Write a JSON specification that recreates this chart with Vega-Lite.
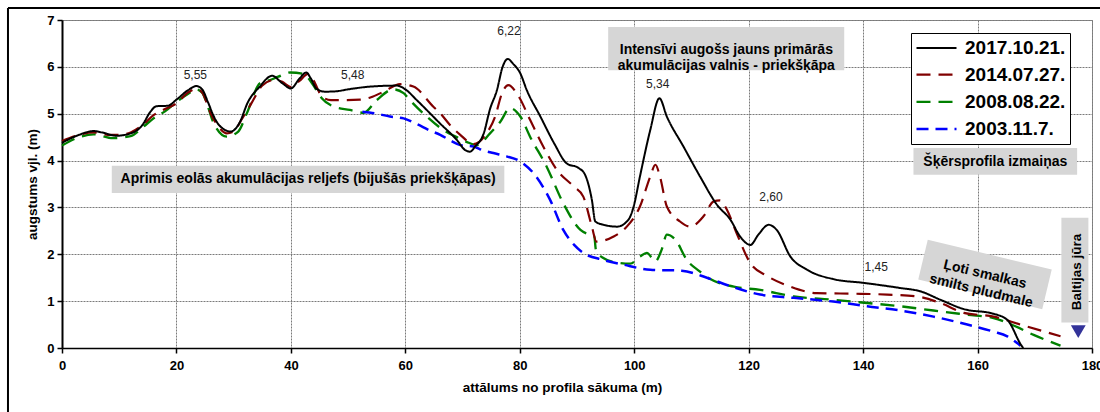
{
  "$schema": "https://vega.github.io/schema/vega-lite/v6.json",
  "width": 1030,
  "height": 328,
  "autosize": {"type": "none"},
  "padding": {"left": 62, "top": 20, "right": 8, "bottom": 64},
  "background": "white",
  "config": {
    "font": "Liberation Sans",
    "view": {"stroke": "#8c8c8c", "strokeWidth": 1},
    "axis": {
      "labelFont": "Liberation Sans", "labelFontWeight": "bold", "labelFontSize": 13, "labelColor": "#000",
      "titleFont": "Liberation Sans", "titleFontWeight": "bold", "titleFontSize": 13.5, "titleColor": "#000",
      "domainColor": "#000", "tickColor": "#000", "tickSize": 5, "tickWidth": 1.5,
      "gridColor": "#7a7a7a", "gridDash": [2, 1], "gridWidth": 1, "labelFlush": false, "labelOverlap": false
    },
    "legend": {
      "labelFont": "Liberation Sans", "labelFontSize": 19, "labelFontWeight": "bold", "labelColor": "#000",
      "symbolType": "M-1,0L3,0", "symbolSize": 400, "symbolStrokeWidth": 2.5, "symbolFillColor": "transparent",
      "strokeColor": "#000", "fillColor": "#fff", "padding": 4, "rowPadding": 5.2, "labelOffset": 27
    }
  },
  "datasets": {
    "profiles": [
      {"date": "2008.08.22.", "x": 0, "y": 4.32},
      {"date": "2008.08.22.", "x": 3, "y": 4.5},
      {"date": "2008.08.22.", "x": 5.5, "y": 4.56},
      {"date": "2008.08.22.", "x": 8.9, "y": 4.48},
      {"date": "2008.08.22.", "x": 12, "y": 4.52},
      {"date": "2008.08.22.", "x": 14.2, "y": 4.72},
      {"date": "2008.08.22.", "x": 16, "y": 4.9},
      {"date": "2008.08.22.", "x": 18, "y": 5.05},
      {"date": "2008.08.22.", "x": 20, "y": 5.25},
      {"date": "2008.08.22.", "x": 22, "y": 5.42},
      {"date": "2008.08.22.", "x": 23.5, "y": 5.52},
      {"date": "2008.08.22.", "x": 24.5, "y": 5.45},
      {"date": "2008.08.22.", "x": 25.5, "y": 5.15},
      {"date": "2008.08.22.", "x": 26.5, "y": 4.8},
      {"date": "2008.08.22.", "x": 28.8, "y": 4.51},
      {"date": "2008.08.22.", "x": 30.8, "y": 4.62},
      {"date": "2008.08.22.", "x": 32.3, "y": 5.01},
      {"date": "2008.08.22.", "x": 34.6, "y": 5.65},
      {"date": "2008.08.22.", "x": 36.4, "y": 5.72},
      {"date": "2008.08.22.", "x": 37.8, "y": 5.79},
      {"date": "2008.08.22.", "x": 39.9, "y": 5.88},
      {"date": "2008.08.22.", "x": 42.2, "y": 5.85},
      {"date": "2008.08.22.", "x": 43.9, "y": 5.61},
      {"date": "2008.08.22.", "x": 45.4, "y": 5.33},
      {"date": "2008.08.22.", "x": 47.5, "y": 5.15},
      {"date": "2008.08.22.", "x": 50.3, "y": 5.08},
      {"date": "2008.08.22.", "x": 52.7, "y": 5.02},
      {"date": "2008.08.22.", "x": 55, "y": 5.29},
      {"date": "2008.08.22.", "x": 57.9, "y": 5.52},
      {"date": "2008.08.22.", "x": 59.7, "y": 5.44},
      {"date": "2008.08.22.", "x": 60.5, "y": 5.33},
      {"date": "2008.08.22.", "x": 63.2, "y": 5.0},
      {"date": "2008.08.22.", "x": 66.7, "y": 4.65},
      {"date": "2008.08.22.", "x": 69, "y": 4.5},
      {"date": "2008.08.22.", "x": 70.7, "y": 4.4},
      {"date": "2008.08.22.", "x": 72.5, "y": 4.33},
      {"date": "2008.08.22.", "x": 74.8, "y": 4.58},
      {"date": "2008.08.22.", "x": 76.6, "y": 4.83},
      {"date": "2008.08.22.", "x": 78.3, "y": 5.12},
      {"date": "2008.08.22.", "x": 80.1, "y": 4.94},
      {"date": "2008.08.22.", "x": 81.8, "y": 4.51},
      {"date": "2008.08.22.", "x": 84.7, "y": 3.87},
      {"date": "2008.08.22.", "x": 87.6, "y": 3.09},
      {"date": "2008.08.22.", "x": 90.6, "y": 2.52},
      {"date": "2008.08.22.", "x": 92.3, "y": 2.42},
      {"date": "2008.08.22.", "x": 93.0, "y": 2.4},
      {"date": "2008.08.22.", "x": 93.3, "y": 2.1},
      {"date": "2008.08.22.", "x": 94.6, "y": 1.92},
      {"date": "2008.08.22.", "x": 97, "y": 1.82},
      {"date": "2008.08.22.", "x": 99.3, "y": 1.8},
      {"date": "2008.08.22.", "x": 101, "y": 1.95},
      {"date": "2008.08.22.", "x": 102.2, "y": 2.03},
      {"date": "2008.08.22.", "x": 103.7, "y": 1.85},
      {"date": "2008.08.22.", "x": 104.8, "y": 2.1},
      {"date": "2008.08.22.", "x": 105.7, "y": 2.42},
      {"date": "2008.08.22.", "x": 107.2, "y": 2.31},
      {"date": "2008.08.22.", "x": 109.2, "y": 1.88},
      {"date": "2008.08.22.", "x": 111.5, "y": 1.63},
      {"date": "2008.08.22.", "x": 113.3, "y": 1.47},
      {"date": "2008.08.22.", "x": 117.4, "y": 1.31},
      {"date": "2008.08.22.", "x": 122, "y": 1.24},
      {"date": "2008.08.22.", "x": 127.9, "y": 1.1},
      {"date": "2008.08.22.", "x": 134.8, "y": 1.03},
      {"date": "2008.08.22.", "x": 140.7, "y": 0.96},
      {"date": "2008.08.22.", "x": 146.5, "y": 0.89},
      {"date": "2008.08.22.", "x": 152.3, "y": 0.8},
      {"date": "2008.08.22.", "x": 158.2, "y": 0.71},
      {"date": "2008.08.22.", "x": 162.8, "y": 0.64},
      {"date": "2008.08.22.", "x": 166.3, "y": 0.48},
      {"date": "2008.08.22.", "x": 169.8, "y": 0.28},
      {"date": "2008.08.22.", "x": 174.5, "y": 0.05},

      {"date": "2003.11.7.", "x": 52.5, "y": 5.04},
      {"date": "2003.11.7.", "x": 55, "y": 5.0},
      {"date": "2003.11.7.", "x": 57.3, "y": 4.94},
      {"date": "2003.11.7.", "x": 59.7, "y": 4.9},
      {"date": "2003.11.7.", "x": 62, "y": 4.78},
      {"date": "2003.11.7.", "x": 64.3, "y": 4.64},
      {"date": "2003.11.7.", "x": 66.1, "y": 4.55},
      {"date": "2003.11.7.", "x": 68, "y": 4.42},
      {"date": "2003.11.7.", "x": 69.6, "y": 4.33},
      {"date": "2003.11.7.", "x": 71.9, "y": 4.3},
      {"date": "2003.11.7.", "x": 73.5, "y": 4.22},
      {"date": "2003.11.7.", "x": 75.4, "y": 4.16},
      {"date": "2003.11.7.", "x": 77.7, "y": 4.09},
      {"date": "2003.11.7.", "x": 80.1, "y": 3.98},
      {"date": "2003.11.7.", "x": 82.4, "y": 3.73},
      {"date": "2003.11.7.", "x": 85.3, "y": 3.16},
      {"date": "2003.11.7.", "x": 87.6, "y": 2.52},
      {"date": "2003.11.7.", "x": 89.5, "y": 2.2},
      {"date": "2003.11.7.", "x": 91.1, "y": 2.03},
      {"date": "2003.11.7.", "x": 94.6, "y": 1.88},
      {"date": "2003.11.7.", "x": 98.1, "y": 1.78},
      {"date": "2003.11.7.", "x": 102.8, "y": 1.67},
      {"date": "2003.11.7.", "x": 108.3, "y": 1.65},
      {"date": "2003.11.7.", "x": 112.7, "y": 1.5},
      {"date": "2003.11.7.", "x": 116.8, "y": 1.32},
      {"date": "2003.11.7.", "x": 122, "y": 1.14},
      {"date": "2003.11.7.", "x": 127.9, "y": 1.07},
      {"date": "2003.11.7.", "x": 134.8, "y": 0.99},
      {"date": "2003.11.7.", "x": 140.7, "y": 0.89},
      {"date": "2003.11.7.", "x": 146.5, "y": 0.8},
      {"date": "2003.11.7.", "x": 152.3, "y": 0.67},
      {"date": "2003.11.7.", "x": 158.2, "y": 0.5},
      {"date": "2003.11.7.", "x": 162.8, "y": 0.35},
      {"date": "2003.11.7.", "x": 165.2, "y": 0.25},
      {"date": "2003.11.7.", "x": 167.5, "y": 0.05},

      {"date": "2014.07.27.", "x": 0, "y": 4.42},
      {"date": "2014.07.27.", "x": 3, "y": 4.55},
      {"date": "2014.07.27.", "x": 5.5, "y": 4.6},
      {"date": "2014.07.27.", "x": 8, "y": 4.55},
      {"date": "2014.07.27.", "x": 10, "y": 4.55},
      {"date": "2014.07.27.", "x": 12, "y": 4.6},
      {"date": "2014.07.27.", "x": 14, "y": 4.75},
      {"date": "2014.07.27.", "x": 16, "y": 4.97},
      {"date": "2014.07.27.", "x": 18, "y": 5.1},
      {"date": "2014.07.27.", "x": 20, "y": 5.22},
      {"date": "2014.07.27.", "x": 22, "y": 5.45},
      {"date": "2014.07.27.", "x": 23.5, "y": 5.53},
      {"date": "2014.07.27.", "x": 24.5, "y": 5.45},
      {"date": "2014.07.27.", "x": 26, "y": 5.0},
      {"date": "2014.07.27.", "x": 27.5, "y": 4.7},
      {"date": "2014.07.27.", "x": 28.8, "y": 4.58},
      {"date": "2014.07.27.", "x": 30, "y": 4.62},
      {"date": "2014.07.27.", "x": 31.5, "y": 4.9},
      {"date": "2014.07.27.", "x": 33, "y": 5.2},
      {"date": "2014.07.27.", "x": 35, "y": 5.6},
      {"date": "2014.07.27.", "x": 37, "y": 5.72},
      {"date": "2014.07.27.", "x": 38.5, "y": 5.68},
      {"date": "2014.07.27.", "x": 40, "y": 5.57},
      {"date": "2014.07.27.", "x": 41.5, "y": 5.7},
      {"date": "2014.07.27.", "x": 43, "y": 5.85},
      {"date": "2014.07.27.", "x": 44, "y": 5.7},
      {"date": "2014.07.27.", "x": 45.4, "y": 5.37},
      {"date": "2014.07.27.", "x": 47, "y": 5.29},
      {"date": "2014.07.27.", "x": 49.2, "y": 5.29},
      {"date": "2014.07.27.", "x": 52.1, "y": 5.3},
      {"date": "2014.07.27.", "x": 54, "y": 5.35},
      {"date": "2014.07.27.", "x": 56.2, "y": 5.47},
      {"date": "2014.07.27.", "x": 59.1, "y": 5.63},
      {"date": "2014.07.27.", "x": 61.4, "y": 5.58},
      {"date": "2014.07.27.", "x": 64.9, "y": 5.15},
      {"date": "2014.07.27.", "x": 66.1, "y": 5.01},
      {"date": "2014.07.27.", "x": 67.8, "y": 4.76},
      {"date": "2014.07.27.", "x": 69.6, "y": 4.55},
      {"date": "2014.07.27.", "x": 71.9, "y": 4.35},
      {"date": "2014.07.27.", "x": 74.2, "y": 4.58},
      {"date": "2014.07.27.", "x": 75.7, "y": 4.94},
      {"date": "2014.07.27.", "x": 76.9, "y": 5.44},
      {"date": "2014.07.27.", "x": 78, "y": 5.61},
      {"date": "2014.07.27.", "x": 79.8, "y": 5.37},
      {"date": "2014.07.27.", "x": 81.8, "y": 4.87},
      {"date": "2014.07.27.", "x": 84.1, "y": 4.3},
      {"date": "2014.07.27.", "x": 86.5, "y": 3.8},
      {"date": "2014.07.27.", "x": 89.4, "y": 3.45},
      {"date": "2014.07.27.", "x": 91.1, "y": 3.23},
      {"date": "2014.07.27.", "x": 92.6, "y": 2.59},
      {"date": "2014.07.27.", "x": 93.4, "y": 2.27},
      {"date": "2014.07.27.", "x": 96.4, "y": 2.38},
      {"date": "2014.07.27.", "x": 98.7, "y": 2.59},
      {"date": "2014.07.27.", "x": 101, "y": 3.02},
      {"date": "2014.07.27.", "x": 102.8, "y": 3.66},
      {"date": "2014.07.27.", "x": 103.7, "y": 3.91},
      {"date": "2014.07.27.", "x": 104.5, "y": 3.66},
      {"date": "2014.07.27.", "x": 105.7, "y": 3.02},
      {"date": "2014.07.27.", "x": 108, "y": 2.7},
      {"date": "2014.07.27.", "x": 109.8, "y": 2.59},
      {"date": "2014.07.27.", "x": 112.1, "y": 2.81},
      {"date": "2014.07.27.", "x": 113.9, "y": 3.13},
      {"date": "2014.07.27.", "x": 115, "y": 3.15},
      {"date": "2014.07.27.", "x": 116.2, "y": 2.95},
      {"date": "2014.07.27.", "x": 117.9, "y": 2.45},
      {"date": "2014.07.27.", "x": 120.3, "y": 1.81},
      {"date": "2014.07.27.", "x": 123.2, "y": 1.54},
      {"date": "2014.07.27.", "x": 127.3, "y": 1.31},
      {"date": "2014.07.27.", "x": 131.9, "y": 1.17},
      {"date": "2014.07.27.", "x": 137.8, "y": 1.16},
      {"date": "2014.07.27.", "x": 144.2, "y": 1.14},
      {"date": "2014.07.27.", "x": 149.4, "y": 1.1},
      {"date": "2014.07.27.", "x": 153.5, "y": 0.96},
      {"date": "2014.07.27.", "x": 157.6, "y": 0.75},
      {"date": "2014.07.27.", "x": 162.8, "y": 0.67},
      {"date": "2014.07.27.", "x": 167.5, "y": 0.5},
      {"date": "2014.07.27.", "x": 174.5, "y": 0.25},

      {"date": "2017.10.21.", "x": 0, "y": 4.38},
      {"date": "2017.10.21.", "x": 3, "y": 4.55},
      {"date": "2017.10.21.", "x": 5.5, "y": 4.63},
      {"date": "2017.10.21.", "x": 7, "y": 4.6},
      {"date": "2017.10.21.", "x": 9.5, "y": 4.53},
      {"date": "2017.10.21.", "x": 12, "y": 4.58},
      {"date": "2017.10.21.", "x": 14, "y": 4.75},
      {"date": "2017.10.21.", "x": 15.5, "y": 5.05},
      {"date": "2017.10.21.", "x": 16.5, "y": 5.16},
      {"date": "2017.10.21.", "x": 18.5, "y": 5.17},
      {"date": "2017.10.21.", "x": 20, "y": 5.3},
      {"date": "2017.10.21.", "x": 22, "y": 5.5},
      {"date": "2017.10.21.", "x": 23.5, "y": 5.59},
      {"date": "2017.10.21.", "x": 24.5, "y": 5.52},
      {"date": "2017.10.21.", "x": 25.5, "y": 5.25},
      {"date": "2017.10.21.", "x": 26.5, "y": 4.95},
      {"date": "2017.10.21.", "x": 27.5, "y": 4.75},
      {"date": "2017.10.21.", "x": 29.5, "y": 4.62},
      {"date": "2017.10.21.", "x": 31, "y": 4.8},
      {"date": "2017.10.21.", "x": 32.5, "y": 5.25},
      {"date": "2017.10.21.", "x": 34.5, "y": 5.57},
      {"date": "2017.10.21.", "x": 36.7, "y": 5.81},
      {"date": "2017.10.21.", "x": 38.5, "y": 5.65},
      {"date": "2017.10.21.", "x": 40, "y": 5.54},
      {"date": "2017.10.21.", "x": 41.5, "y": 5.75},
      {"date": "2017.10.21.", "x": 42.7, "y": 5.88},
      {"date": "2017.10.21.", "x": 43.5, "y": 5.75},
      {"date": "2017.10.21.", "x": 44.5, "y": 5.53},
      {"date": "2017.10.21.", "x": 46, "y": 5.47},
      {"date": "2017.10.21.", "x": 48, "y": 5.48},
      {"date": "2017.10.21.", "x": 50, "y": 5.52},
      {"date": "2017.10.21.", "x": 54, "y": 5.58},
      {"date": "2017.10.21.", "x": 58.5, "y": 5.6},
      {"date": "2017.10.21.", "x": 60, "y": 5.52},
      {"date": "2017.10.21.", "x": 62, "y": 5.29},
      {"date": "2017.10.21.", "x": 66, "y": 4.8},
      {"date": "2017.10.21.", "x": 69, "y": 4.44},
      {"date": "2017.10.21.", "x": 70.5, "y": 4.22},
      {"date": "2017.10.21.", "x": 71.3, "y": 4.19},
      {"date": "2017.10.21.", "x": 72.2, "y": 4.3},
      {"date": "2017.10.21.", "x": 73.7, "y": 4.58},
      {"date": "2017.10.21.", "x": 74.8, "y": 5.1},
      {"date": "2017.10.21.", "x": 76, "y": 5.5},
      {"date": "2017.10.21.", "x": 77, "y": 6.0},
      {"date": "2017.10.21.", "x": 77.9, "y": 6.17},
      {"date": "2017.10.21.", "x": 78.8, "y": 6.07},
      {"date": "2017.10.21.", "x": 80.1, "y": 5.86},
      {"date": "2017.10.21.", "x": 81.2, "y": 5.51},
      {"date": "2017.10.21.", "x": 83.6, "y": 4.94},
      {"date": "2017.10.21.", "x": 86, "y": 4.37},
      {"date": "2017.10.21.", "x": 88.2, "y": 3.94},
      {"date": "2017.10.21.", "x": 90.3, "y": 3.84},
      {"date": "2017.10.21.", "x": 91.4, "y": 3.7},
      {"date": "2017.10.21.", "x": 92.6, "y": 3.16},
      {"date": "2017.10.21.", "x": 93.2, "y": 2.7},
      {"date": "2017.10.21.", "x": 94.6, "y": 2.63},
      {"date": "2017.10.21.", "x": 97, "y": 2.59},
      {"date": "2017.10.21.", "x": 99, "y": 2.74},
      {"date": "2017.10.21.", "x": 99.9, "y": 3.02},
      {"date": "2017.10.21.", "x": 101, "y": 3.66},
      {"date": "2017.10.21.", "x": 102.8, "y": 4.65},
      {"date": "2017.10.21.", "x": 104.4, "y": 5.33},
      {"date": "2017.10.21.", "x": 105.7, "y": 4.94},
      {"date": "2017.10.21.", "x": 108.6, "y": 4.3},
      {"date": "2017.10.21.", "x": 111.5, "y": 3.66},
      {"date": "2017.10.21.", "x": 114.5, "y": 3.05},
      {"date": "2017.10.21.", "x": 116.8, "y": 2.74},
      {"date": "2017.10.21.", "x": 118.5, "y": 2.38},
      {"date": "2017.10.21.", "x": 120.3, "y": 2.2},
      {"date": "2017.10.21.", "x": 121.7, "y": 2.42},
      {"date": "2017.10.21.", "x": 123.5, "y": 2.63},
      {"date": "2017.10.21.", "x": 124.9, "y": 2.52},
      {"date": "2017.10.21.", "x": 127.3, "y": 1.95},
      {"date": "2017.10.21.", "x": 130.2, "y": 1.67},
      {"date": "2017.10.21.", "x": 134.8, "y": 1.47},
      {"date": "2017.10.21.", "x": 140.1, "y": 1.39},
      {"date": "2017.10.21.", "x": 146.5, "y": 1.28},
      {"date": "2017.10.21.", "x": 150, "y": 1.21},
      {"date": "2017.10.21.", "x": 153.5, "y": 1.03},
      {"date": "2017.10.21.", "x": 157.6, "y": 0.83},
      {"date": "2017.10.21.", "x": 162.8, "y": 0.73},
      {"date": "2017.10.21.", "x": 165.2, "y": 0.6},
      {"date": "2017.10.21.", "x": 167.8, "y": 0.03},
      {"date": "2017.10.21.", "x": 168, "y": 0}
    ],
    "frame": [
      {"x": -9.44, "x2": 190, "y": 7.256, "y2": 7.256},
      {"x": -9.44, "x2": -9.44, "y": 7.256, "y2": -2}
    ],
    "boxes": [
      {"x": 8.7, "x2": 77.3, "y": 3.31, "y2": 3.89},
      {"x": 95.45, "x2": 136.7, "y": 5.93, "y2": 6.85},
      {"x": 148.8, "x2": 177.4, "y": 3.7, "y2": 4.27},
      {"x": 174.65, "x2": 179.37, "y": 0.545, "y2": 2.78}
    ],
    "tiltbox": [{"x": 161.3, "y": 1.57}],
    "boxtext": [
      {"x": 43.0, "y": 3.6, "t": "Aprimis eolās akumulācijas reljefs (bijušās priekšķāpas)"},
      {"x": 116.1, "y": 6.36, "t": "Intensīvi augošs jauns primārās\nakumulācijas valnis - priekšķāpa"},
      {"x": 163.1, "y": 3.98, "t": "Šķērsprofila izmaiņas"}
    ],
    "tilttext": [{"x": 161.3, "y": 1.57, "t": "Ļoti smalkas\nsmilts pludmale"}],
    "seatext": [{"x": 177.3, "y": 1.62, "t": "Baltijas jūra"}],
    "arrow": [{"x": 177.6, "y": 0.35}],
    "values": [
      {"x": 23.3, "y": 5.83, "t": "5,55"},
      {"x": 50.8, "y": 5.83, "t": "5,48"},
      {"x": 78.1, "y": 6.77, "t": "6,22"},
      {"x": 104.1, "y": 5.64, "t": "5,34"},
      {"x": 123.9, "y": 3.22, "t": "2,60"},
      {"x": 142.3, "y": 1.73, "t": "1,45"}
    ]
  },
  "encoding": {
    "x": {
      "field": "x", "type": "quantitative",
      "scale": {"domain": [0, 180], "nice": false, "zero": false},
      "title": "attālums no profila sākuma (m)",
      "axis": {"values": [0, 20, 40, 60, 80, 100, 120, 140, 160, 180], "domainWidth": 1.5, "labelPadding": 6, "titlePadding": 8, "titleX": 500}
    },
    "y": {
      "field": "y", "type": "quantitative",
      "scale": {"domain": [0, 7], "nice": false, "zero": false},
      "title": "augstums vjl. (m)",
      "axis": {"values": [0, 1, 2, 3, 4, 5, 6, 7], "domainWidth": 2, "labelPadding": 3, "titlePadding": 7}
    }
  },
  "layer": [
    {
      "data": {"name": "frame"},
      "mark": {"type": "rule", "clip": false, "color": "#000", "strokeWidth": 2},
      "encoding": {"x2": {"field": "x2"}, "y2": {"field": "y2"}}
    },
    {
      "data": {"name": "boxes"},
      "mark": {"type": "rect", "fill": "#d6d6d6"},
      "encoding": {"x2": {"field": "x2"}, "y2": {"field": "y2"}}
    },
    {
      "data": {"name": "tiltbox"},
      "mark": {"type": "point", "shape": "M-1,-0.32L1,-0.32L1,0.32L-1,0.32Z", "filled": true, "fill": "#d6d6d6", "opacity": 1, "size": 16256, "angle": 13.5, "strokeWidth": 0}
    },
    {
      "data": {"name": "profiles"},
      "mark": {"type": "line", "interpolate": "monotone"},
      "encoding": {
        "color": {
          "field": "date", "type": "nominal",
          "scale": {"domain": ["2017.10.21.", "2014.07.27.", "2008.08.22.", "2003.11.7."], "range": ["#000000", "#800000", "#008000", "#0000ff"]},
          "legend": {"title": null, "orient": "none", "legendX": 849, "legendY": 13}
        },
        "strokeDash": {
          "field": "date", "type": "nominal",
          "scale": {"domain": ["2017.10.21.", "2014.07.27.", "2008.08.22.", "2003.11.7."], "range": [[1, 0], [14, 8], [14, 8], [12, 7]]},
          "legend": {"title": null, "orient": "none", "legendX": 849, "legendY": 13}
        },
        "strokeWidth": {
          "field": "date", "type": "nominal",
          "scale": {"domain": ["2017.10.21.", "2014.07.27.", "2008.08.22.", "2003.11.7."], "range": [2, 2.5, 2.5, 2.5]},
          "legend": null
        }
      }
    },
    {
      "data": {"name": "boxtext"},
      "mark": {"type": "text", "fontWeight": "bold", "fontSize": 14, "color": "#000", "align": "center", "baseline": "middle", "lineBreak": "\n", "lineHeight": 16.5},
      "encoding": {"text": {"field": "t"}}
    },
    {
      "data": {"name": "tilttext"},
      "mark": {"type": "text", "fontWeight": "bold", "fontSize": 14, "color": "#000", "align": "center", "baseline": "middle", "lineBreak": "\n", "lineHeight": 17, "angle": 13.5},
      "encoding": {"text": {"field": "t"}}
    },
    {
      "data": {"name": "seatext"},
      "mark": {"type": "text", "fontWeight": "bold", "fontSize": 13.5, "color": "#000", "align": "center", "baseline": "middle", "angle": 270},
      "encoding": {"text": {"field": "t"}}
    },
    {
      "data": {"name": "arrow"},
      "mark": {"type": "point", "shape": "triangle-down", "filled": true, "fill": "#333399", "opacity": 1, "size": 220, "strokeWidth": 0}
    },
    {
      "data": {"name": "values"},
      "mark": {"type": "text", "fontSize": 12, "color": "#222", "align": "center", "baseline": "middle"},
      "encoding": {"text": {"field": "t"}}
    }
  ]
}
